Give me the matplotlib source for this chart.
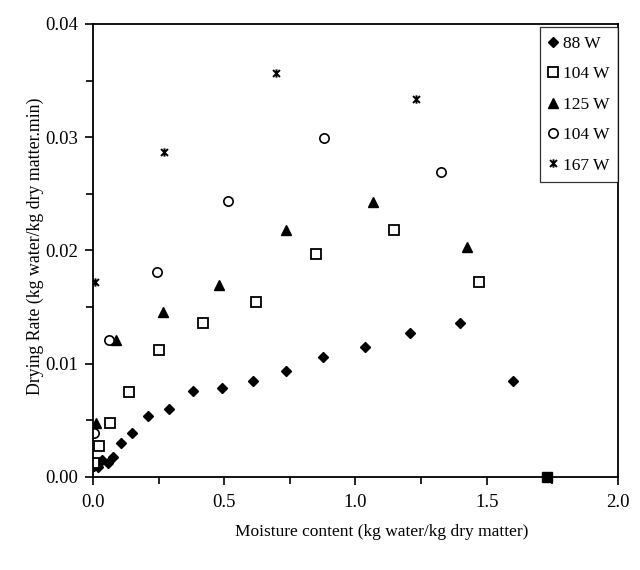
import matplotlib
matplotlib.use("Agg")
import matplotlib.pyplot as plt
from matplotlib.path import Path
from matplotlib.ticker import MultipleLocator, FormatStrFormatter

plt.rcParams["font.family"] = ["Liberation Serif", "DejaVu Serif"]

# 88 W
x_88 = [0.005, 0.018, 0.033, 0.058, 0.077, 0.105, 0.147, 0.21, 0.29, 0.382, 0.493,
        0.608, 0.736, 0.877, 1.037, 1.209, 1.398, 1.601]
y_88 = [0.00097, 0.00091, 0.0015, 0.00121, 0.0018, 0.00297, 0.00389, 0.00541, 0.00603,
        0.00757, 0.00786, 0.0085, 0.00939, 0.01057, 0.01151, 0.01274, 0.01363, 0.0085]

# 104 W (squares)
x_104a = [0.005, 0.024, 0.065, 0.137, 0.251, 0.418, 0.621, 0.851, 1.145, 1.470]
y_104a = [0.00127, 0.00274, 0.0048, 0.0075, 0.01121, 0.0136, 0.01542, 0.01966, 0.02184, 0.01722]

# 125 W
x_125 = [0.011, 0.086, 0.267, 0.481, 0.736, 1.065, 1.426]
y_125 = [0.0048, 0.0121, 0.01454, 0.01698, 0.02181, 0.02425, 0.02028]

# 104 W (circles)
x_104b = [0.005, 0.062, 0.245, 0.514, 0.881, 1.326]
y_104b = [0.00386, 0.0121, 0.0181, 0.0244, 0.0299, 0.0269]

# 167 W
x_167 = [0.008, 0.27, 0.697, 1.229]
y_167 = [0.01719, 0.0287, 0.0357, 0.03335]

# point sitting on the x axis
x_end = [1.728]
y_end = [0.0]

star = Path([(-1, -1), (1, 1), (-1, 1), (1, -1), (0, -1.2), (0, 1.2)],
            [Path.MOVETO, Path.LINETO, Path.MOVETO, Path.LINETO, Path.MOVETO, Path.LINETO])

fig = plt.figure(figsize=(6.4, 5.7), dpi=100)
ax = fig.add_axes([0.1453, 0.1632, 0.8203, 0.7947])

ax.plot(x_88, y_88, "D", color="black", ms=5.3, ls="none", label="88 W")
ax.plot(x_104a, y_104a, "s", mfc="white", mec="black", mew=1.3, ms=6.5, ls="none", label="104 W")
ax.plot(x_125, y_125, "^", color="black", ms=7.2, ls="none", label="125 W")
ax.plot(x_104b, y_104b, "o", mfc="white", mec="black", mew=1.2, ms=6.7, ls="none", label="104 W")
ax.plot(x_167, y_167, marker=star, color="black", mew=1.4, ms=6, ls="none", label="167 W")
ax.plot(x_end, y_end, "s", color="black", ms=7, ls="none", clip_on=False)

ax.set_xlim(0, 2.0)
ax.set_ylim(0, 0.04)
ax.xaxis.set_major_locator(MultipleLocator(0.5))
ax.xaxis.set_minor_locator(MultipleLocator(0.25))
ax.yaxis.set_major_locator(MultipleLocator(0.01))
ax.yaxis.set_minor_locator(MultipleLocator(0.005))
ax.xaxis.set_major_formatter(FormatStrFormatter("%.1f"))
ax.yaxis.set_major_formatter(FormatStrFormatter("%.2f"))
ax.tick_params(which="both", direction="out", width=1.2, labelsize=13.5, colors="black")
ax.tick_params(which="major", length=6)
ax.tick_params(which="minor", length=5)
ax.tick_params(axis="y", pad=5)
ax.tick_params(axis="x", pad=6)
for s in ax.spines.values():
    s.set_linewidth(1.3)

ax.set_xlabel("Moisture content (kg water/kg dry matter)", fontsize=12.5)
ax.set_ylabel("Drying Rate (kg water/kg dry matter.min)", fontsize=12.8)
ax.xaxis.set_label_coords(0.55, -0.103)
ax.yaxis.set_label_coords(-0.094, 0.51)

leg = ax.legend(loc="upper right", bbox_to_anchor=(1.0, 0.993), fontsize=12.5, frameon=True,
                fancybox=False, edgecolor="black", handlelength=0.5, handletextpad=0.3,
                labelspacing=0.82, borderpad=0.5, borderaxespad=0.0)
leg.get_frame().set_linewidth(0.9)

fig.savefig("out.png", dpi=100)
